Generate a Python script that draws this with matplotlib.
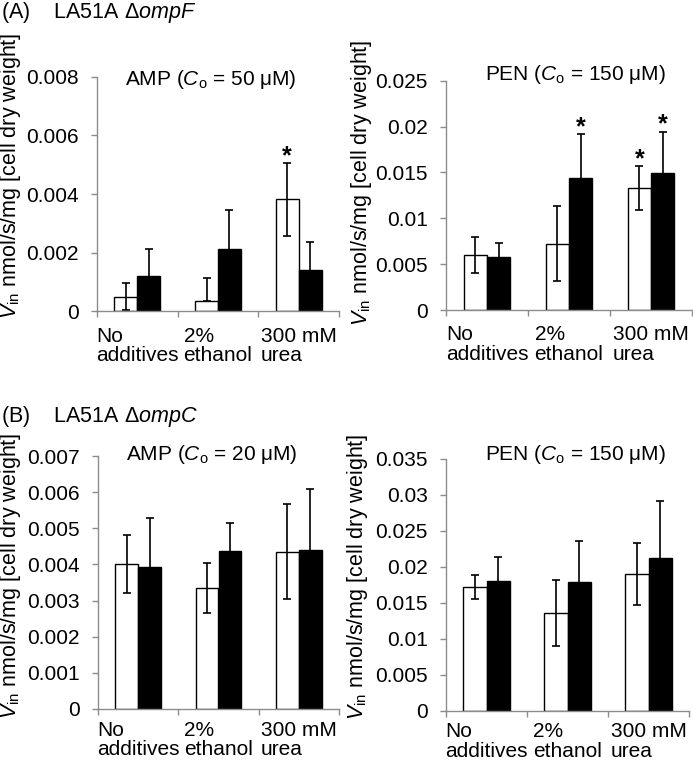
import numpy as np
import matplotlib
matplotlib.use("Agg")
import matplotlib.pyplot as plt
from matplotlib.ticker import FuncFormatter, FixedLocator

plt.rcParams['font.family'] = ['Liberation Sans', 'DejaVu Sans']
plt.rcParams['mathtext.fontset'] = 'custom'
plt.rcParams['mathtext.rm'] = 'Liberation Sans'
plt.rcParams['mathtext.it'] = 'Liberation Sans:italic'
plt.rcParams['mathtext.bf'] = 'Liberation Sans:bold'

# categories shared by all panels
categories = ["No\nadditives", "2%\nethanol", "300 mM\nurea"]

# (A) LA51A ompF, AMP
amp_f_open = [0.00050, 0.00034, 0.00382]
amp_f_open_err = [0.00045, 0.00078, 0.00124]
amp_f_open_err_low = [0.00045, 0.0, 0.00124]
amp_f_black = [0.00122, 0.00211, 0.00141]
amp_f_black_err = [0.00089, 0.00133, 0.00095]
amp_f_star_open = [False, False, True]
amp_f_star_black = [False, False, False]

# (A) LA51A ompF, PEN
pen_f_open = [0.00596, 0.00724, 0.01330]
pen_f_open_err = [0.00197, 0.00410, 0.00242]
pen_f_black = [0.00575, 0.01440, 0.01498]
pen_f_black_err = [0.00156, 0.00480, 0.00447]
pen_f_star_open = [False, False, True]
pen_f_star_black = [False, True, True]

# (B) LA51A ompC, AMP
amp_c_open = [0.00402, 0.00335, 0.00435]
amp_c_open_err = [0.00080, 0.00070, 0.00131]
amp_c_black = [0.00392, 0.00438, 0.00441]
amp_c_black_err = [0.00136, 0.00077, 0.00167]

# (B) LA51A ompC, PEN
pen_c_open = [0.01713, 0.01360, 0.01900]
pen_c_open_err = [0.00170, 0.00460, 0.00428]
pen_c_black = [0.01796, 0.01790, 0.02120]
pen_c_black_err = [0.00333, 0.00570, 0.00797]

no_stars = [False, False, False]

W, H = 693, 762
GREY = '#8c8c8c'
FS = 15


def px(x, y):
    """pixel position -> figure fraction"""
    return x / W, 1 - y / H


def fmt(v, pos):
    return f"{v:.3f}".rstrip('0').rstrip('.')


def draw_panel(fig, rect_px, open_vals, open_err, black_vals, black_err,
               ymax, ystep, star_open, star_black, open_err_low=None,
               xpad=11):
    x0, y0, x1, y1 = rect_px
    left, top = px(x0, y0)
    right, bottom = px(x1, y1)
    ax = fig.add_axes([left, bottom, right - left, top - bottom])

    x = np.arange(len(categories))
    w = 0.285
    if open_err_low is None:
        open_err_low = open_err
    ekw = dict(elinewidth=1.2, capthick=1.2, ecolor='black')
    ax.bar(x - w / 2, open_vals, w, color='white', edgecolor='black',
           linewidth=1.0, yerr=[open_err_low, open_err], capsize=3,
           error_kw=ekw, zorder=2)
    ax.bar(x + w / 2, black_vals, w, color='black', edgecolor='black',
           linewidth=1.0, yerr=black_err, capsize=3, error_kw=ekw, zorder=2)

    for i in range(len(categories)):
        if star_open[i]:
            ax.annotate('*', (x[i] - w / 2, open_vals[i] + open_err[i]),
                        xytext=(0, 5), textcoords='offset points',
                        ha='center', va='center', fontsize=18,
                        fontweight='bold')
        if star_black[i]:
            ax.annotate('*', (x[i] + w / 2, black_vals[i] + black_err[i]),
                        xytext=(0, 5), textcoords='offset points',
                        ha='center', va='center', fontsize=18,
                        fontweight='bold')

    ax.set_xlim(-0.5, len(categories) - 0.5)
    ax.set_ylim(0, ymax)
    ax.set_yticks(np.arange(0, ymax + ystep / 2, ystep))
    ax.yaxis.set_major_formatter(FuncFormatter(fmt))

    ax.set_xticks(x)
    ax.set_xticklabels(categories)
    for t in ax.get_xticklabels():
        t.set_multialignment('left')
        t.set_linespacing(1.02)
    ax.xaxis.set_minor_locator(FixedLocator(np.arange(-0.5, len(categories), 1.0)))
    ax.tick_params(axis='x', which='major', length=0, pad=xpad, labelsize=FS)
    ax.tick_params(axis='x', which='minor', length=4, width=1, color=GREY)
    ax.tick_params(axis='y', length=4.5, width=1, color=GREY, pad=8.5,
                   labelsize=FS)

    for s in ['top', 'right']:
        ax.spines[s].set_visible(False)
    for s in ['left', 'bottom']:
        ax.spines[s].set_color(GREY)
        ax.spines[s].set_linewidth(1.0)
    return ax


fig = plt.figure(figsize=(W / 100, H / 100), dpi=100)

draw_panel(fig, (97, 76.7, 339, 311.3), amp_f_open, amp_f_open_err,
           amp_f_black, amp_f_black_err, 0.008, 0.002,
           amp_f_star_open, amp_f_star_black, amp_f_open_err_low)
draw_panel(fig, (446, 80.7, 692, 310), pen_f_open, pen_f_open_err,
           pen_f_black, pen_f_black_err, 0.025, 0.005,
           pen_f_star_open, pen_f_star_black)
draw_panel(fig, (98, 456, 339, 709), amp_c_open, amp_c_open_err,
           amp_c_black, amp_c_black_err, 0.007, 0.001, no_stars, no_stars,
           xpad=8.5)
draw_panel(fig, (446, 458.7, 689, 710.5), pen_c_open, pen_c_open_err,
           pen_c_black, pen_c_black_err, 0.035, 0.005, no_stars, no_stars,
           xpad=8.5)

# panel headings
fig.text(*px(1, 18), r"(A)    LA51A Δ$\mathit{ompF}$", fontsize=15.5,
         ha='left', va='baseline')
fig.text(*px(1, 422), r"(B)    LA51A Δ$\mathit{ompC}$", fontsize=15.5,
         ha='left', va='baseline')

# panel titles
fig.text(*px(211, 85), r"AMP ($C_\mathrm{o}$ = 50 μM)", fontsize=FS,
         ha='center', va='baseline')
fig.text(*px(575, 80), r"PEN ($C_\mathrm{o}$ = 150 μM)", fontsize=FS,
         ha='center', va='baseline')
fig.text(*px(212, 460), r"AMP ($C_\mathrm{o}$ = 20 μM)", fontsize=FS,
         ha='center', va='baseline')
fig.text(*px(575, 460), r"PEN ($C_\mathrm{o}$ = 150 μM)", fontsize=FS,
         ha='center', va='baseline')

# y labels
ylab = r"$V_\mathrm{in}$ nmol/s/mg [cell dry weight]"
for (lx, ly) in [(11, 175.5), (362, 183), (11, 576), (357, 577)]:
    fig.text(*px(lx, ly), ylab, rotation=90, fontsize=15.5,
             ha='center', va='center')

fig.savefig('out.png', dpi=100)
